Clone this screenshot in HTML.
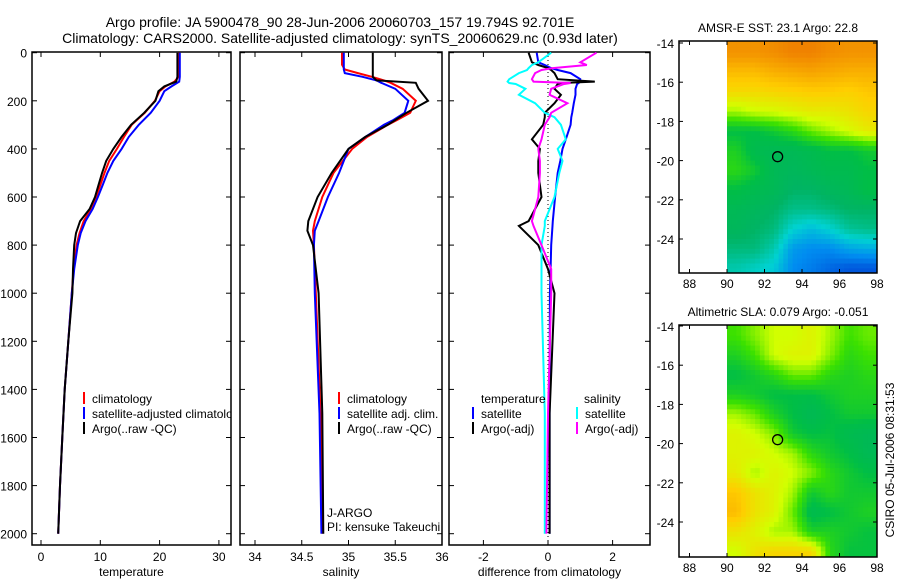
<!DOCTYPE html>
<html><head><meta charset="utf-8"><style>
body{margin:0;background:#fff;}
svg text{font-family:"Liberation Sans",sans-serif;font-size:12px;fill:#000;}
</style></head><body>
<svg id="chart" xmlns="http://www.w3.org/2000/svg" width="900" height="580" viewBox="0 0 900 580">
<rect width="900" height="580" fill="#fff"/>
<text x="340" y="27" text-anchor="middle" style="font-size:14px">Argo profile: JA 5900478_90 28-Jun-2006 20060703_157 19.794S 92.701E</text>
<text x="340" y="43" text-anchor="middle" style="font-size:14px">Climatology: CARS2000. Satellite-adjusted climatology: synTS_20060629.nc (0.93d later)</text>
<text transform="translate(894,460) rotate(-90)" text-anchor="middle">CSIRO 05-Jul-2006 08:31:53</text>
<g id="g"></g>
</svg>
<script>
// ---- data ----
const tDepth = [0,100,120,140,160,200,250,300,350,400,450,500,550,600,650,700,750,800,900,1000,1200,1400,1600,1800,2000];
const tClim  = [23.3,23.2,22.5,21,20,19.2,17.5,15.3,14,12.8,11.5,10.7,10,9.3,8.4,7.2,6.5,6.0,5.5,5.2,4.6,4.0,3.6,3.2,2.9];
const tSat   = [23.4,23.4,23.3,22,20.8,20,18.5,16.5,14.8,13.6,12.2,11.2,10.4,9.6,8.7,7.5,6.7,6.2,5.6,5.2,4.6,4.0,3.6,3.2,2.9];
const tArgo  = [23.0,23.0,22.8,20.8,19.8,19.3,17.4,15.2,13.6,12.2,11.0,10.3,9.7,9.1,8.2,6.6,5.9,5.6,5.4,5.3,4.6,4.0,3.6,3.2,2.9];
const sDepth = [0,50,70,85,100,115,125,150,200,250,280,300,350,400,500,600,700,740,800,1000,1500,2000];
const sClim  = [34.93,34.93,34.96,35.1,35.25,35.38,35.45,35.58,35.72,35.66,35.52,35.42,35.2,35.04,34.84,34.72,34.64,34.62,34.63,34.65,34.70,34.72];
const sSat   = [34.95,34.95,34.95,34.96,35.15,35.3,35.35,35.5,35.64,35.6,35.48,35.38,35.18,35.0,34.9,34.78,34.68,34.64,34.63,34.64,34.69,34.71];
const sArgo  = [35.26,35.26,35.26,35.26,35.26,35.3,35.72,35.75,35.85,35.62,35.5,35.42,35.18,35.0,34.82,34.67,34.57,34.56,34.62,34.68,34.72,34.73];
const dDepth = [0,40,51,64,72,85,110,120,126,130,150,175,210,250,268,300,360,400,450,500,600,700,720,800,900,1000,1500,2000];
const dTsat  = [-0.35,-0.3,-0.1,0.1,0.3,0.7,1.0,1.0,0.95,0.9,0.85,0.85,0.8,0.75,0.72,0.7,0.55,0.45,0.38,0.3,0.22,0.15,0.14,0.1,0.08,0.06,0.05,0.05];
const dTargo = [-0.6,-0.5,-0.3,0.0,0.1,0.2,0.3,1.45,0.4,0.3,0.2,0.4,0.2,-0.1,-0.1,-0.15,-0.5,-0.25,-0.3,-0.3,-0.2,-0.6,-0.9,-0.3,0.0,0.2,0.05,0.05];
const dSsat  = [0.1,-0.3,-0.5,-0.6,-0.65,-0.9,-1.2,-1.25,-1.2,-1.0,-0.7,-0.9,-0.4,-0.1,0.2,0.4,0.55,0.3,0.45,0.35,0.2,-0.1,-0.1,-0.2,-0.2,-0.2,-0.1,-0.1];
const dSargo = [1.5,1.0,1.2,0.15,-0.2,-0.4,-0.5,-0.45,0.7,0.5,0.1,0.05,0.6,0.1,0.05,-0.1,-0.2,-0.3,-0.25,-0.25,-0.3,-0.5,-0.45,-0.2,0.1,0.1,0.0,-0.05];
const depthTicks = [0,200,400,600,800,1000,1200,1400,1600,1800,2000];
const tempTicks = [0,10,20,30];
const salTicks = [34,34.5,35,35.5,36];
const salTickLabels = ['34','34.5','35','35.5','36'];
const diffTicks = [-2,0,2];
const lonTicks = [88,90,92,94,96,98];
const latTicks = [-14,-16,-18,-20,-22,-24];
const sstGrid = [
[0.97,0.97,0.98,1,1,0.98,0.97,0.97],
[0.9,0.9,0.92,0.93,0.94,0.93,0.92,0.92],
[0.84,0.84,0.85,0.86,0.87,0.87,0.86,0.88],
[0.72,0.75,0.76,0.78,0.8,0.8,0.82,0.85],
[0.55,0.55,0.58,0.62,0.68,0.72,0.76,0.8],
[0.6,0.52,0.5,0.5,0.52,0.55,0.55,0.58],
[0.62,0.58,0.5,0.48,0.5,0.52,0.52,0.55],
[0.55,0.52,0.5,0.45,0.45,0.48,0.5,0.55],
[0.5,0.48,0.45,0.4,0.4,0.42,0.45,0.45],
[0.48,0.45,0.42,0.3,0.25,0.3,0.38,0.4],
[0.42,0.42,0.35,0.18,0.15,0.15,0.2,0.22],
[0.35,0.32,0.28,0.15,0.12,0.08,0.05,0.05]];
const slaGrid = [
[0.65,0.7,0.75,0.75,0.78,0.72,0.65,0.68],
[0.6,0.65,0.75,0.78,0.78,0.7,0.62,0.65],
[0.55,0.58,0.62,0.68,0.68,0.62,0.6,0.62],
[0.6,0.58,0.55,0.55,0.55,0.58,0.6,0.6],
[0.72,0.68,0.6,0.55,0.5,0.55,0.58,0.58],
[0.78,0.75,0.7,0.58,0.55,0.56,0.52,0.5],
[0.78,0.78,0.75,0.72,0.62,0.58,0.55,0.5],
[0.8,0.72,0.78,0.75,0.7,0.62,0.58,0.55],
[0.88,0.82,0.78,0.72,0.58,0.62,0.58,0.58],
[0.9,0.82,0.78,0.68,0.52,0.55,0.58,0.6],
[0.82,0.78,0.72,0.72,0.6,0.6,0.58,0.56],
[0.75,0.82,0.85,0.85,0.85,0.62,0.56,0.56]];
const floatLon = 92.7, floatLat = -19.8;

const NS='http://www.w3.org/2000/svg';
const G=document.getElementById('g');
function mk(tag,at,parent){const e=document.createElementNS(NS,tag);for(const k in at)e.setAttribute(k,at[k]);(parent||G).appendChild(e);return e;}
function txt(x,y,s,anchor,parent){const t=mk('text',{x:x,y:y,'text-anchor':anchor||'start'},parent);t.textContent=s;return t;}
const yD = d => 52.7 + d*0.2405;
const PT={top:52,bot:545};

function panel(name,x0,x1,xs,ticks,labels,xlabel){
  const b=mk('rect',{x:x0,y:PT.top,width:x1-x0,height:PT.bot-PT.top,fill:'none',stroke:'#000','stroke-width':1.5});
  
  
  depthTicks.forEach(d=>{const y=yD(d);mk('line',{x1:x0,x2:x0+5,y1:y,y2:y,stroke:'#000'});mk('line',{x1:x1-5,x2:x1,y1:y,y2:y,stroke:'#000'});});
  ticks.forEach((v,i)=>{const x=xs(v);mk('line',{x1:x,x2:x,y1:PT.top,y2:PT.top+5,stroke:'#000'});mk('line',{x1:x,x2:x,y1:PT.bot-5,y2:PT.bot,stroke:'#000'});
    const t=txt(x,561,labels[i],'middle');
    
    });
  const xl=txt((x0+x1)/2,576,xlabel,'middle');
  
  
  const cp=mk('clipPath',{id:'cp-'+name});mk('rect',{x:x0,y:PT.top,width:x1-x0,height:PT.bot-PT.top},cp);
  return mk('g',{'clip-path':'url(#cp-'+name+')'});
}
function series(g,xs,vals,deps,color,name){
  const p=mk('polyline',{points:vals.map((v,i)=>xs(v).toFixed(1)+','+yD(deps[i]).toFixed(1)).join(' '),fill:'none',stroke:color,'stroke-width':2},g);
  
  
}
function legend(g,x,y,color,label,name){
  mk('line',{x1:x,x2:x,y1:y-11,y2:y+1,stroke:color,'stroke-width':2},g);
  const t=txt(x+8,y,label,'start',g);
  
  
}
depthTicks.forEach(d=>{const t=txt(27,yD(d)+5,String(d),'end');
  
  });

const xT=v=>41+v*5.93;
let g1=panel('temperature-panel',32,231,xT,tempTicks,tempTicks.map(String),'temperature');
series(g1,xT,tClim,tDepth,'#f00','temp-climatology-line');
series(g1,xT,tSat,tDepth,'#00f','temp-satellite-line');
series(g1,xT,tArgo,tDepth,'#000','temp-argo-line');
legend(g1,84,403,'#f00','climatology','legend-climatology');
legend(g1,84,418,'#00f','satellite-adjusted climatology','legend-satellite-adjusted');
legend(g1,84,433,'#000','Argo(..raw -QC)','legend-argo');

const xS=v=>255+(v-34)*93.5;
let g2=panel('salinity-panel',240,442,xS,salTicks,salTickLabels,'salinity');
series(g2,xS,sClim,sDepth,'#f00','sal-climatology-line');
series(g2,xS,sSat,sDepth,'#00f','sal-satellite-line');
series(g2,xS,sArgo,sDepth,'#000','sal-argo-line');
legend(g2,339,403,'#f00','climatology','legend-sal-climatology');
legend(g2,339,418,'#00f','satellite adj. clim.','legend-sal-satellite');
legend(g2,339,433,'#000','Argo(..raw -QC)','legend-sal-argo');
let t1=txt(327,517,'J-ARGO','start',g2);


let t2=txt(327,531,'PI: kensuke Takeuchi','start',g2);



const xF=v=>548+v*32.3;
let g3=panel('difference-panel',449,650,xF,diffTicks,diffTicks.map(String),'difference from climatology');
mk('line',{x1:xF(0),x2:xF(0),y1:PT.top,y2:PT.bot,stroke:'#000','stroke-dasharray':'1,3'},g3);
series(g3,xF,dTsat,dDepth,'#00f','diff-temp-satellite-line');
series(g3,xF,dTargo,dDepth,'#000','diff-temp-argo-line');
series(g3,xF,dSsat,dDepth,'#0ff','diff-sal-satellite-line');
series(g3,xF,dSargo,dDepth,'#f0f','diff-sal-argo-line');
let t3=txt(481,403,'temperature','start',g3);


let t4=txt(584,403,'salinity','start',g3);


legend(g3,473,418,'#00f','satellite','legend-temp-satellite');
legend(g3,473,433,'#000','Argo(-adj)','legend-temp-argo');
legend(g3,577,418,'#0ff','satellite','legend-sal-satellite-diff');
legend(g3,577,433,'#f0f','Argo(-adj)','legend-sal-argo-diff');

const stops=[[0,[0,60,210]],[0.15,[0,140,240]],[0.3,[0,210,210]],[0.45,[0,180,100]],[0.55,[0,190,70]],[0.65,[60,225,0]],[0.75,[210,255,0]],[0.87,[255,205,0]],[1,[240,130,0]]];
function cmap(t){for(let i=1;i<stops.length;i++){if(t<=stops[i][0]){const a=stops[i-1],b=stops[i],f=(t-a[0])/(b[0]-a[0]);return 'rgb('+a[1].map((c,k)=>Math.round(c+(b[1][k]-c)*f)).join(',')+')';}}return 'rgb(240,130,0)';}
function sample(grid,r,c){
  // bilinear interpolation between cell centres
  const R=grid.length,C=grid[0].length;
  r=Math.max(0,Math.min(R-1,r));c=Math.max(0,Math.min(C-1,c));
  const r0=Math.floor(r),c0=Math.floor(c),r1=Math.min(R-1,r0+1),c1=Math.min(C-1,c0+1),fr=r-r0,fc=c-c0;
  return grid[r0][c0]*(1-fr)*(1-fc)+grid[r0][c1]*(1-fr)*fc+grid[r1][c0]*fr*(1-fc)+grid[r1][c1]*fr*fc;
}
function map(name,top,bot,lat14y,grid,title){
  const x0=679,x1=877;
  const lonX=v=>727+(v-90)*18.75;
  const latY=v=>lat14y+(-14-v)*19.6;
  const tt=txt(778,top-9,title,'middle');
  
  
  const cp=mk('clipPath',{id:'cp-'+name});mk('rect',{x:x0,y:top,width:x1-x0,height:bot-top},cp);
  const g=mk('g',{'clip-path':'url(#cp-'+name+')'});
  const sub=4, R=grid.length, C=grid[0].length;
  for(let i=0;i<R*sub;i++){for(let j=0;j<C*sub;j++){
    const v=sample(grid,(i+0.5)/sub-0.5,(j+0.5)/sub-0.5);
    const ya=latY(-14-i/sub), yb=latY(-14-(i+1)/sub);
    const cell=mk('rect',{x:lonX(90+j/sub).toFixed(1),y:(i===0?top:ya).toFixed(1),width:(18.75/sub+0.6).toFixed(2),height:((i===0?yb-top:yb-ya)+0.6).toFixed(2),fill:cmap(v)},g);
    
    
  }}
  const fr=mk('rect',{x:x0,y:top,width:x1-x0,height:bot-top,fill:'none',stroke:'#000','stroke-width':1.5});
  
  
  lonTicks.forEach(v=>{const x=lonX(v);mk('line',{x1:x,x2:x,y1:top,y2:top+4,stroke:'#000'});mk('line',{x1:x,x2:x,y1:bot-4,y2:bot,stroke:'#000'});
    const t=txt(x,bot+15,String(v),'middle');
    
    });
  latTicks.forEach(v=>{const y=latY(v);mk('line',{x1:x0,x2:x0+4,y1:y,y2:y,stroke:'#000'});mk('line',{x1:x1-4,x2:x1,y1:y,y2:y,stroke:'#000'});
    const t=txt(x0-5,y+5,String(v),'end');
    
    });
  const c=mk('circle',{cx:lonX(floatLon),cy:latY(floatLat),r:5,fill:'none',stroke:'#000','stroke-width':1.3});
  
  
}
map('sst-map',41,273,43,sstGrid,'AMSR-E SST: 23.1 Argo: 22.8');
map('sla-map',325,557,326,slaGrid,'Altimetric SLA: 0.079 Argo: -0.051');
</script>
</body></html>
